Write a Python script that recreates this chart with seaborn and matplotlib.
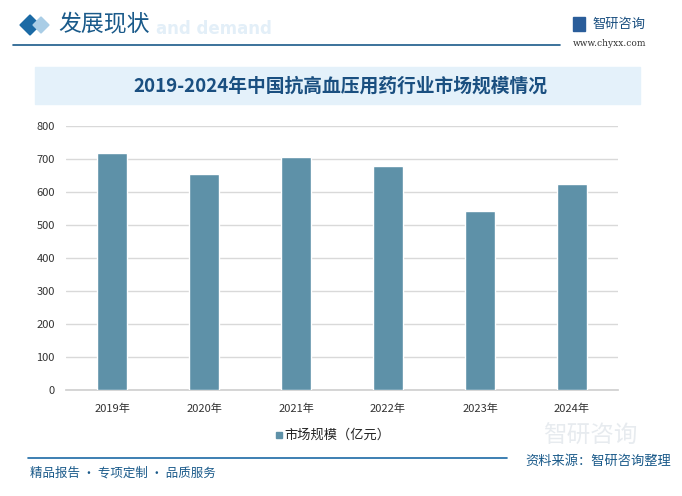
import matplotlib
matplotlib.use("Agg")
import matplotlib.pyplot as plt
import seaborn as sns
import pandas as pd
from matplotlib.patches import Rectangle, Polygon

years = ["2019年", "2020年", "2021年", "2022年", "2023年", "2024年"]
market_size = [719, 655, 707, 680, 543, 625]
series_name = "市场规模（亿元）"
yticks = [0, 100, 200, 300, 400, 500, 600, 700, 800]

sns.set_theme(style="white")
plt.rcParams['font.family'] = ['Noto Sans CJK SC', 'DejaVu Sans']

df = pd.DataFrame({"year": years, "value": market_size})

W, H = 682, 496
fig = plt.figure(figsize=(W / 100, H / 100), dpi=100)
fig.patch.set_facecolor("white")

def fx(x): return x / W
def fy(y): return 1 - y / H

ax = fig.add_axes([fx(66), fy(390), fx(618) - fx(66), fy(126) - fy(390)])
bar_color = "#5e91a8"
sns.barplot(data=df, x="year", y="value", color=bar_color, width=0.32,
            saturation=1, ax=ax, zorder=3)
ax.set_ylim(0, 800)
ax.set_yticks(yticks)
ax.set_xlabel("")
ax.set_ylabel("")
ax.grid(axis="y", color="#d9d9d9", linewidth=1, zorder=0)
ax.set_axisbelow(True)
for s in ["top", "right", "left"]:
    ax.spines[s].set_visible(False)
ax.spines["bottom"].set_color("#d0d0d0")
ax.tick_params(axis="both", length=0, labelsize=8, colors="#333333", pad=8)
ax.tick_params(axis="x", pad=10)

# header
fig.patches.append(Polygon([[fx(20), fy(25)], [fx(30), fy(15)], [fx(40), fy(25)], [fx(30), fy(35)]],
                           closed=True, transform=fig.transFigure, color="#1b6aa5"))
fig.patches.append(Polygon([[fx(33), fy(25)], [fx(41), fy(17)], [fx(49), fy(25)], [fx(41), fy(33)]],
                           closed=True, transform=fig.transFigure, color="#a9cde6"))
fig.text(fx(156), fy(29), "and demand", fontsize=12, color="#e3eff8", fontweight="bold",
         family="DejaVu Sans", va="center", ha="left")
fig.text(fx(58), fy(24), "发展现状", fontsize=16.5, color="#1a5a8a", va="center", ha="left")
fig.add_artist(plt.Line2D([fx(13), fx(560)], [fy(45), fy(45)], color="#1a5a8a", linewidth=1.2,
                          transform=fig.transFigure))
fig.text(fx(592), fy(24), "智研咨询", fontsize=9.5, color="#1a4f80", va="center", ha="left")
fig.patches.append(Rectangle((fx(573), fy(31)), fx(12), fy(17) - fy(31),
                             transform=fig.transFigure, color="#2a5d9a"))
fig.text(fx(610), fy(44), "www.chyxx.com", fontsize=6.5, color="#333333", va="center", ha="center",
         family="DejaVu Serif")

# title box
fig.patches.append(Rectangle((fx(35), fy(104)), fx(640) - fx(35), fy(67) - fy(104),
                             transform=fig.transFigure, color="#e4f1fa", zorder=0))
fig.text(fx(340), fy(86), "2019-2024年中国抗高血压用药行业市场规模情况", fontsize=13.5,
         color="#1a4f80", fontweight="bold", va="center", ha="center")

# legend
fig.patches.append(Rectangle((fx(276), fy(438)), fx(6), fy(432) - fy(438),
                             transform=fig.transFigure, color=bar_color))
fig.text(fx(284), fy(435), series_name, fontsize=9.5, color="#222222", va="center", ha="left")

# footer
fig.add_artist(plt.Line2D([fx(28), fx(507)], [fy(458), fy(458)], color="#1b6aa5", linewidth=1.2,
                          transform=fig.transFigure))
fig.text(fx(30), fy(473), "精品报告 · 专项定制 · 品质服务", fontsize=9, color="#1a5a8a",
         va="center", ha="left")
fig.text(fx(525), fy(461), "资料来源：智研咨询整理", fontsize=9.5, color="#1a5a8a",
         va="center", ha="left")
fig.text(fx(590), fy(436), "智研咨询", fontsize=17, color="#d0d8e0", alpha=0.5,
         va="center", ha="center", zorder=0)

fig.savefig("out.png", dpi=100)
